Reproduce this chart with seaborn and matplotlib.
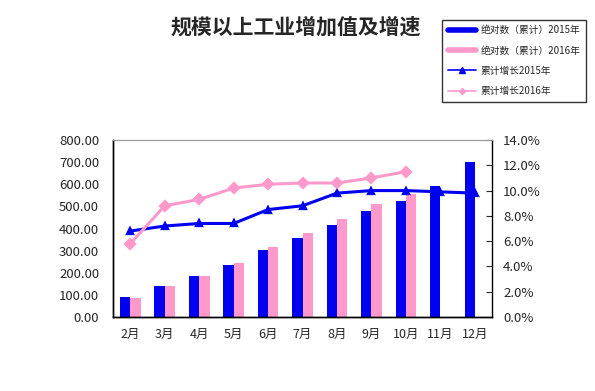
import numpy as np
import pandas as pd
import matplotlib
matplotlib.use('Agg')
import matplotlib.pyplot as plt
import seaborn as sns
from matplotlib.ticker import FormatStrFormatter
from matplotlib.lines import Line2D

# chart data
months = ['2月', '3月', '4月', '5月', '6月', '7月', '8月', '9月', '10月', '11月', '12月']
abs_2015 = [90, 140, 185, 236, 303, 357, 416, 479, 524, 593, 700]
abs_2016 = [85, 140, 185, 243, 318, 378, 443, 511, 556, np.nan, np.nan]
growth_2015 = [6.8, 7.2, 7.4, 7.4, 8.5, 8.8, 9.8, 10.0, 10.0, 9.9, 9.8]
growth_2016 = [5.8, 8.8, 9.3, 10.2, 10.5, 10.6, 10.6, 11.0, 11.5, np.nan, np.nan]
bar_labels = ['绝对数（累计）2015年', '绝对数（累计）2016年']
line_labels = ['累计增长2015年', '累计增长2016年']

blue = '#0000F0'
pink = '#FF99CC'

bars = pd.DataFrame({
    'month': months * 2,
    'series': [bar_labels[0]] * len(months) + [bar_labels[1]] * len(months),
    'value': abs_2015 + abs_2016,
})
lines = pd.DataFrame({
    'month': months * 2,
    'series': [line_labels[0]] * len(months) + [line_labels[1]] * len(months),
    'growth': growth_2015 + growth_2016,
}).dropna()

sns.set_style('white')
plt.rcParams['font.family'] = ['Noto Sans CJK SC', 'DejaVu Sans']

fig = plt.figure(figsize=(5.95, 3.91), dpi=100)
ax = fig.add_axes([0.19, 0.189, 0.637, 0.453])

sns.barplot(data=bars, x='month', y='value', hue='series', order=months,
            palette=[blue, pink], width=0.6, gap=0, ax=ax, legend=False,
            saturation=1, linewidth=0)
ax.set_ylim(0, 800)
ax.set_yticks(np.arange(0, 801, 100))
ax.yaxis.set_major_formatter(FormatStrFormatter('%.2f'))
ax.set_xlabel('')
ax.set_ylabel('')
ax.set_xlim(-0.5, len(months) - 0.5)
ax.set_xticks(range(len(months)))
ax.set_xticklabels(months)
ax.tick_params(axis='x', length=0, labelsize=9, pad=8)
ax.tick_params(axis='y', length=0, labelsize=9.5, pad=10)
# boundary ticks between categories
ax.set_xticks(np.arange(-0.5, len(months), 1), minor=True)
ax.tick_params(axis='x', which='minor', direction='in', length=4, color='black')

ax2 = ax.twinx()
sns.pointplot(data=lines, x='month', y='growth', hue='series', order=months,
              palette=[blue, pink], markers=['^', 'D'], linestyles=['-', '-'],
              errorbar=None, ax=ax2, legend=False, markersize=5, linewidth=2.2)
ax2.set_ylim(0, 14)
ax2.set_yticks(np.arange(0, 14.1, 2))
ax2.yaxis.set_major_formatter(FormatStrFormatter('%.1f%%'))
ax2.set_ylabel('')
ax2.tick_params(axis='y', direction='in', length=4, labelsize=9.5, pad=8)

for a in (ax, ax2):
    for s in ('left', 'right', 'bottom'):
        a.spines[s].set_color('black')
        a.spines[s].set_linewidth(1)
    a.spines['top'].set_color('#999999')
    a.spines['top'].set_linestyle((0, (1, 1)))
ax.spines['right'].set_visible(False)

fig.text(0.497, 0.93, '规模以上工业增加值及增速', ha='center', va='center',
         fontsize=15, fontweight='bold')

handles = [
    Line2D([], [], color=blue, linewidth=4),
    Line2D([], [], color=pink, linewidth=4),
    Line2D([], [], color=blue, linewidth=1.2, marker='^', markersize=4),
    Line2D([], [], color=pink, linewidth=1.2, marker='D', markersize=3),
]
leg = fig.legend(handles, bar_labels + line_labels, loc='upper right',
                 bbox_to_anchor=(0.985, 0.95), borderaxespad=0, fontsize=7,
                 frameon=True, fancybox=False, handlelength=2.8,
                 labelspacing=1.05, borderpad=0.6, handletextpad=0.5,
                 edgecolor='black')
leg.get_frame().set_linewidth(1)

fig.savefig('out.png', dpi=100)
